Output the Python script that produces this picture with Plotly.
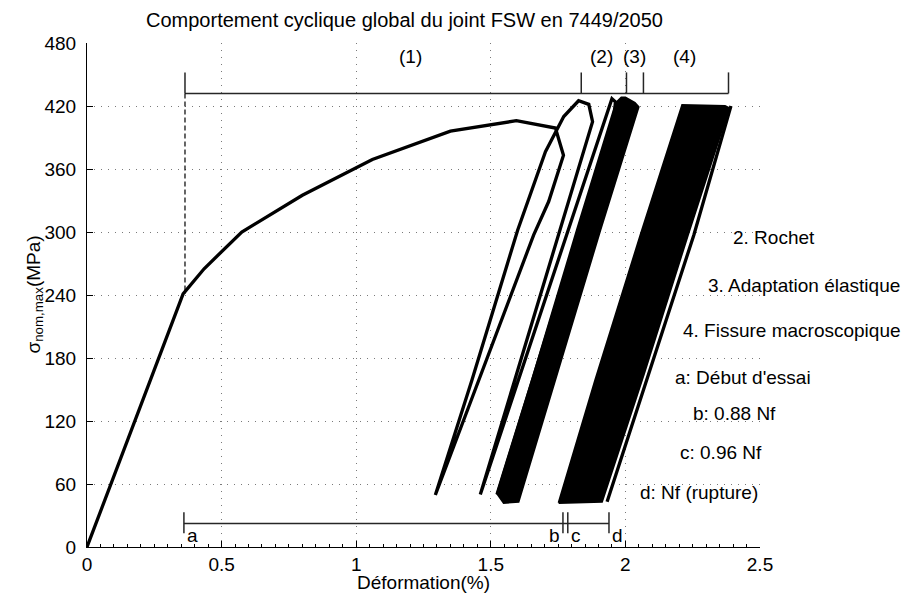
import plotly.graph_objects as go

# Monotonic loading followed by the first few individual cycles (strain %, stress MPa)
main_strain = [0.0, 0.357, 0.435, 0.575, 0.80, 1.06, 1.35, 1.595, 1.74, 1.77,
               1.715, 1.659, 1.294, 1.43, 1.60, 1.703, 1.771, 1.826, 1.864, 1.878,
               1.461, 1.95, 1.963, 1.957, 1.523]
main_stress = [0.0, 241, 265, 300, 335, 369, 396, 406, 399, 373,
               329, 297, 49.5, 159, 302, 376.5, 410, 425, 421.6, 405,
               50, 427, 424, 408, 50]

# Envelope of the dense cycles of stages (2)-(3)
band23_strain = [1.523, 1.548, 1.603, 1.74, 1.907, 2.049, 2.035, 2.0, 1.985, 1.965, 1.82, 1.653]
band23_stress = [51, 42, 43, 159, 302, 419, 423, 428, 428, 423, 302, 159]

# Envelope of the dense cycles of stage (4)
band4_strain = [1.752, 1.913, 2.068, 2.232, 2.385, 2.37, 2.211, 2.056, 1.888]
band4_stress = [42, 43, 164, 297, 418, 420, 421, 297, 159]

# Final cycle up to rupture
rupture_strain = [1.932, 2.254, 2.392]
rupture_stress = [43, 297, 420]

# Stage boundaries (top bracket) and cycle markers (bottom bracket)
phase_bounds = [0.364, 1.836, 2.004, 2.067, 2.383]
phase_labels = ["(1)", "(2)", "(3)", "(4)"]
phase_label_x = [1.2, 1.91, 2.035, 2.22]
phase_bracket_y = 432
phase_tick_top = 452
phase_label_y = 467

cycle_marks = [0.36, 1.768, 1.786, 1.939]
cycle_labels = ["a", "b", "c", "d"]
cycle_bracket_y = 22.5
cycle_tick_lo, cycle_tick_hi = 13, 33

legend_lines = ["2. Rochet", "3. Adaptation élastique", "4. Fissure macroscopique",
                "a: Début d'essai", "b: 0.88 Nf", "c: 0.96 Nf", "d: Nf (rupture)"]
legend_x = [2.394, 2.30, 2.208, 2.175, 2.245, 2.197, 2.045]
legend_y = [295, 249, 206, 161, 127, 90, 52]

x_ticks = [0, 0.5, 1, 1.5, 2, 2.5]
y_ticks = [0, 60, 120, 180, 240, 300, 360, 420, 480]

FONT = "Liberation Sans, Arial, Helvetica, sans-serif"
FS = 19

fig = go.Figure()

# dense cycle bands
for xs, ys in [(band23_strain, band23_stress), (band4_strain, band4_stress)]:
    fig.add_trace(go.Scatter(x=xs + xs[:1], y=ys + ys[:1], mode="lines", fill="toself",
                             fillcolor="black", line=dict(color="black", width=2),
                             hoverinfo="skip", showlegend=False))

fig.add_trace(go.Scatter(x=main_strain, y=main_stress, mode="lines",
                         line=dict(color="black", width=3.3), showlegend=False))
fig.add_trace(go.Scatter(x=rupture_strain, y=rupture_stress, mode="lines",
                         line=dict(color="black", width=3.3), showlegend=False))

# top bracket
bx, by = [phase_bounds[0], phase_bounds[-1], None], [phase_bracket_y, phase_bracket_y, None]
for b in phase_bounds:
    bx += [b, b, None]
    by += [phase_bracket_y, phase_tick_top, None]
fig.add_trace(go.Scatter(x=bx, y=by, mode="lines", line=dict(color="#262626", width=1.5),
                         hoverinfo="skip", showlegend=False))

# bottom bracket
cx, cy = [cycle_marks[0], cycle_marks[-1], None], [cycle_bracket_y, cycle_bracket_y, None]
for c in cycle_marks:
    cx += [c, c, None]
    cy += [cycle_tick_lo, cycle_tick_hi, None]
fig.add_trace(go.Scatter(x=cx, y=cy, mode="lines", line=dict(color="#262626", width=1.5),
                         hoverinfo="skip", showlegend=False))

# dashed guide from start of stage (1) down to the curve
fig.add_trace(go.Scatter(x=[phase_bounds[0], phase_bounds[0]], y=[phase_bracket_y, main_stress[1]],
                         mode="lines", line=dict(color="black", width=1.2, dash="5px,3px"),
                         hoverinfo="skip", showlegend=False))

annots = []
for lab, lx in zip(phase_labels, phase_label_x):
    annots.append(dict(x=lx, y=phase_label_y, xref="x", yref="y", text=lab, showarrow=False,
                       xanchor="center", yanchor="middle", font=dict(size=FS)))
for lab, c in zip(cycle_labels, cycle_marks):
    right = lab == "b"
    annots.append(dict(x=c, y=11, xref="x", yref="y", text=lab, showarrow=False,
                       xanchor="right" if right else "left", xshift=-1 if right else 1,
                       yanchor="middle", font=dict(size=FS)))
for t, lx, ly in zip(legend_lines, legend_x, legend_y):
    annots.append(dict(x=lx, y=ly, xref="x", yref="y", text=t, showarrow=False,
                       xanchor="left", yanchor="middle", font=dict(size=FS)))

annots.append(dict(x=0.4715, y=1.046, xref="paper", yref="paper",
                   text="Comportement cyclique global du joint FSW en 7449/2050",
                   showarrow=False, xanchor="center", yanchor="middle", font=dict(size=20)))
annots.append(dict(x=-0.078, y=0.5, xref="paper", yref="paper",
                   text="σ<sub>nom,max</sub>(MPa)", textangle=-90,
                   showarrow=False, xanchor="center", yanchor="middle", font=dict(size=FS)))
annots.append(dict(x=0.5, y=-0.0705, xref="paper", yref="paper", text="Déformation(%)",
                   showarrow=False, xanchor="center", yanchor="middle", font=dict(size=FS)))

grid = dict(showgrid=True, gridcolor="#7a7a7a", griddash="1px,6px", gridwidth=1)
fig.update_layout(
    width=903, height=598,
    margin=dict(l=87, r=143, t=43, b=51),
    paper_bgcolor="white", plot_bgcolor="white",
    font=dict(family=FONT, size=FS, color="black"),
    annotations=annots,
    xaxis=dict(range=[0, 2.5], tickvals=x_ticks, ticktext=[f"{v:g}" for v in x_ticks],
               showline=True, linecolor="black", linewidth=1.2, ticks="inside",
               ticklen=6, tickcolor="black", zeroline=False,
               minor=dict(ticks="inside", ticklen=3, dtick=0.05, tickcolor="black", showgrid=False),
               **grid),
    yaxis=dict(range=[0, 480], tickvals=y_ticks, showline=True, linecolor="black",
               linewidth=1.2, ticks="inside", ticklen=6, tickcolor="black", zeroline=False,
               ticklabelstandoff=6, **grid),
)

fig.write_html("out.html")
